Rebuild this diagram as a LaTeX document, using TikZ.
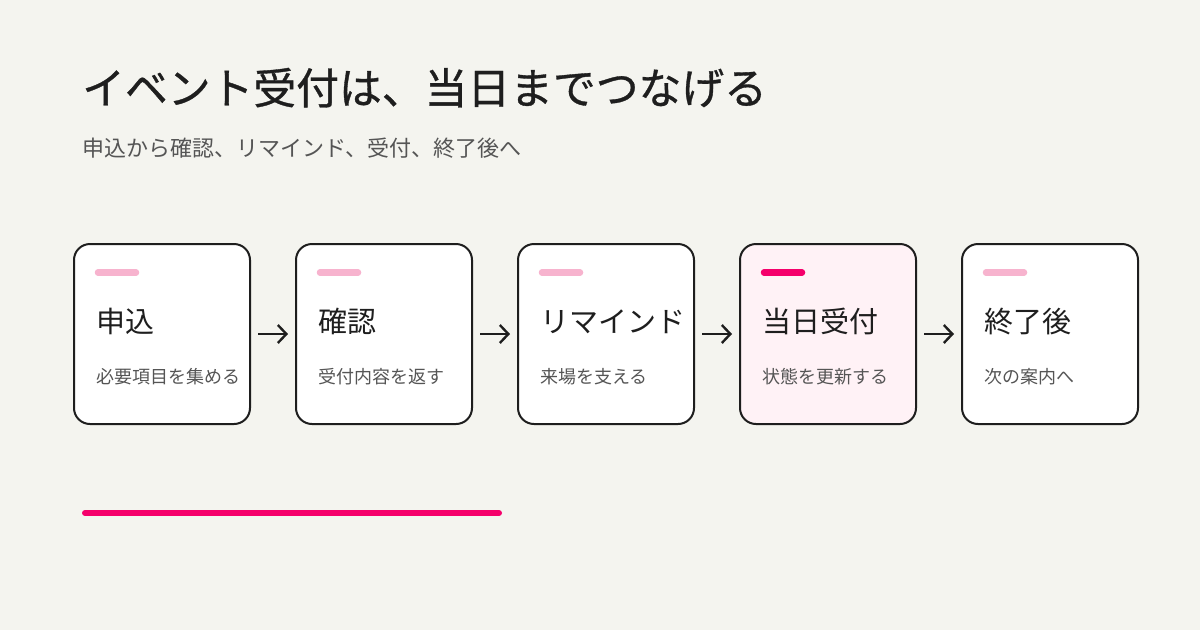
\documentclass[tikz,border=0pt]{standalone}
\usepackage{fontspec}
\setmainfont{Noto Sans CJK JP}
\usetikzlibrary{arrows.meta}
\definecolor{bg}{HTML}{F4F4EF}
\definecolor{ink}{HTML}{1E1E1E}
\definecolor{sub}{HTML}{555555}
\definecolor{pinklt}{HTML}{F7B3CE}
\definecolor{pinkhi}{HTML}{F5006B}
\definecolor{activefill}{HTML}{FFF2F6}
\tikzset{
  stepbox/.style={draw=ink, line width=2pt, fill=white, rounded corners=16pt,
    minimum width=176pt, minimum height=180pt, inner sep=0pt},
  activebox/.style={stepbox, fill=activefill},
  steptitle/.style={anchor=base west, inner sep=0pt, text=ink, font=\fontsize{29}{32}\selectfont},
  stepsub/.style={anchor=base west, inner sep=0pt, text=sub, font=\fontsize{18}{20}\selectfont},
  tagbar/.style={line width=6.5pt, line cap=round, pinklt},
  tagbarhi/.style={line width=6.5pt, line cap=round, pinkhi},
  flow/.style={draw=ink, line width=2.4pt, -{Straight Barb[length=8.5pt,width=18pt,line width=2.4pt]}}
}
\begin{document}
\begin{tikzpicture}[x=1pt,y=-1pt]
\fill[bg] (0,0) rectangle (1200,630);
\useasboundingbox (0,0) rectangle (1200,630);

\node[anchor=base west, inner sep=0pt, text=ink, font=\fontsize{42.8}{48}\selectfont\addfontfeature{FakeBold=0.8}] (title) at (82,104) {イベント受付は、当日までつなげる};
\node[anchor=base west, inner sep=0pt, text=sub, font=\fontsize{22}{26}\selectfont] (subtitle) at (82,156) {申込から確認、リマインド、受付、終了後へ};

\node[stepbox] (b1) at (162,334) {};
\node[stepbox] (b2) at (384,334) {};
\node[stepbox] (b3) at (606,334) {};
\node[activebox] (b4) at (828,334) {};
\node[stepbox] (b5) at (1050,334) {};

\foreach \b/\t/\s in {b1/申込/必要項目を集める, b2/確認/受付内容を返す, b3/リマインド/来場を支える, b4/当日受付/状態を更新する, b5/終了後/次の案内へ}{
  \node[steptitle] (\b-t) at ([xshift=23pt,yshift=2pt]\b.west) {\t};
  \node[stepsub] (\b-s) at ([xshift=23pt,yshift=-49pt]\b.west) {\s};
}
\foreach \b in {b1,b2,b3,b5}{
  \draw[tagbar] ([xshift=25pt,yshift=-29.5pt]\b.north west) -- ([xshift=63pt,yshift=-29.5pt]\b.north west);
}
\draw[tagbarhi] ([xshift=25pt,yshift=-29.5pt]b4.north west) -- ([xshift=63pt,yshift=-29.5pt]b4.north west);

\draw[flow] ([xshift=7pt]b1.east) -- ([xshift=-7pt]b2.west);
\draw[flow] ([xshift=7pt]b2.east) -- ([xshift=-7pt]b3.west);
\draw[flow] ([xshift=7pt]b3.east) -- ([xshift=-7pt]b4.west);
\draw[flow] ([xshift=7pt]b4.east) -- ([xshift=-7pt]b5.west);

\coordinate (ul1) at (85,513);
\coordinate (ul2) at (499,513);
\draw[line width=6pt, line cap=round, pinkhi] (ul1) -- (ul2);
\end{tikzpicture}
\end{document}
